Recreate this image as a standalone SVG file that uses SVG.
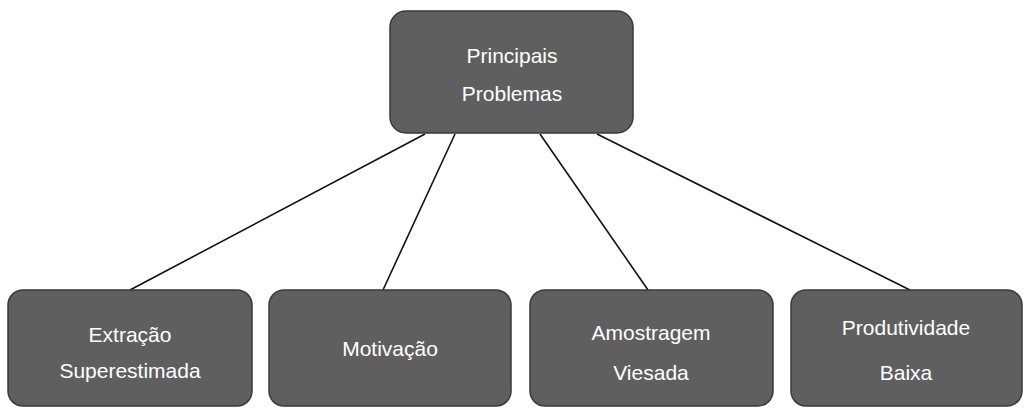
<svg xmlns="http://www.w3.org/2000/svg" width="1025" height="410" viewBox="0 0 1025 410">
<style>
.box{fill:#5f5f5f;stroke:#3a3a3a;stroke-width:1.5}
.t{font-family:"Liberation Sans",Arial,sans-serif;font-size:21px;fill:#ffffff;text-anchor:middle}
.c{stroke:#111111;stroke-width:1.6;fill:none}
</style>
<rect width="1025" height="410" fill="#ffffff"/>
<g id="connectors">
<line class="c" x1="425" y1="134" x2="130" y2="290"/>
<line class="c" x1="455" y1="134" x2="383" y2="290"/>
<line class="c" x1="540" y1="134" x2="648" y2="290"/>
<line class="c" x1="597" y1="134" x2="910" y2="290"/>
</g>
<g id="node-top">
<rect class="box" x="390" y="11" width="243" height="122" rx="16"/>
<text class="t" x="512" y="63">Principais</text>
<text class="t" x="512" y="101">Problemas</text>
</g>
<g id="node-1">
<rect class="box" x="8" y="290" width="244" height="116" rx="15"/>
<text class="t" x="130" y="342">Extração</text>
<text class="t" x="130" y="378">Superestimada</text>
</g>
<g id="node-2">
<rect class="box" x="269" y="290" width="242" height="116" rx="15"/>
<text class="t" x="390" y="356">Motivação</text>
</g>
<g id="node-3">
<rect class="box" x="530" y="290" width="243" height="116" rx="15"/>
<text class="t" x="651" y="340">Amostragem</text>
<text class="t" x="651" y="380">Viesada</text>
</g>
<g id="node-4">
<rect class="box" x="791" y="290" width="231" height="116" rx="15"/>
<text class="t" x="906" y="335">Produtividade</text>
<text class="t" x="906" y="380">Baixa</text>
</g>
</svg>
